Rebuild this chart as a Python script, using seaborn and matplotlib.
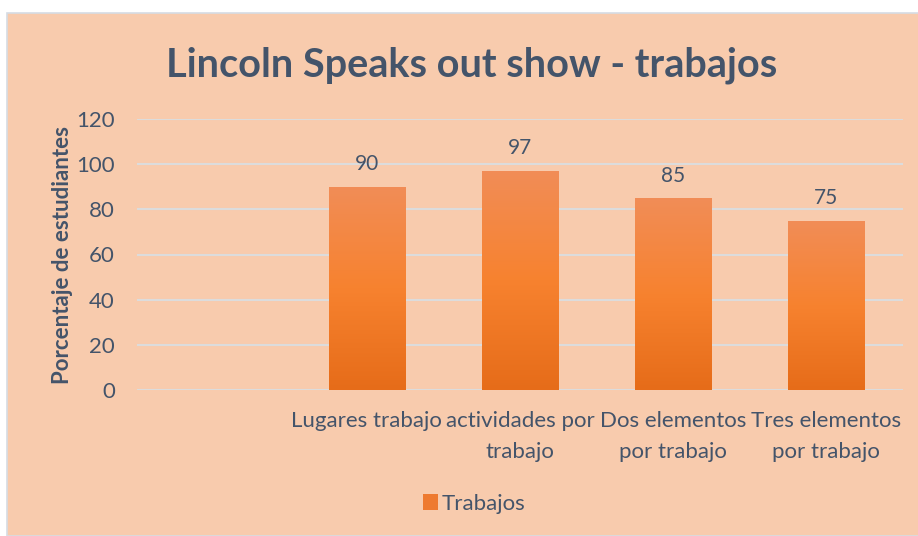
import numpy as np
import pandas as pd
import matplotlib.pyplot as plt
import seaborn as sns
from matplotlib.colors import LinearSegmentedColormap
from matplotlib.patches import Rectangle, Patch

# chart data
categories = ["", "Lugares trabajo", "actividades por\ntrabajo",
              "Dos elementos\npor trabajo", "Tres elementos\npor trabajo"]
bar_categories = categories[1:]
valores = [90, 97, 85, 75]

data = pd.DataFrame({"Categoria": bar_categories, "Trabajos": valores})

peach = "#F8CBAD"
text_col = "#44546A"

sns.set_style("white")
plt.rcParams["font.family"] = ["Lato", "DejaVu Sans"]

fig = plt.figure(figsize=(9.18, 5.36), dpi=100)
fig.patch.set_facecolor("white")
# chart area background
fig.patches.append(Rectangle((7 / 918, 0), 1, 1 - 13 / 536, transform=fig.transFigure,
                             facecolor=peach, edgecolor="#D6DCE4", linewidth=1.2, zorder=-5))

ax = fig.add_axes([137 / 918, 1 - 390 / 536, (903 - 137) / 918, (390 - 119) / 536])
ax.set_facecolor("none")
ax.set_zorder(2)

sns.barplot(data=data, x="Categoria", y="Trabajos", order=categories,
            color="#ED7D31", width=0.5, ax=ax, zorder=3)

# gradient fill on bars
cmap = LinearSegmentedColormap.from_list("grad", ["#E66C19", "#F7822F", "#F18D57"])
grad = np.linspace(0, 1, 256).reshape(-1, 1)
for p in ax.patches:
    x0, y0 = p.get_x(), p.get_y()
    w, h = p.get_width(), p.get_height()
    if np.isnan(h) or h == 0:
        continue
    p.set_facecolor("none")
    p.set_edgecolor("none")
    im = ax.imshow(grad, cmap=cmap, origin="lower", aspect="auto",
                   extent=[x0, x0 + w, y0, y0 + h], zorder=3)
    im.set_clip_path(p)

for c in ax.containers:
    ax.bar_label(c, labels=[str(v) for v in valores], padding=9,
                 fontsize=15, color=text_col)

ax.set_xlim(-0.5, len(categories) - 0.5)
ax.set_ylim(0, 120)
ax.set_yticks(range(0, 121, 20))
ax.set_xticks(range(len(categories)), categories, linespacing=1.7)
ax.yaxis.grid(True, color="#DCDCDC", linewidth=1.5, zorder=0)
ax.set_axisbelow(True)
for s in ax.spines.values():
    s.set_visible(False)
ax.tick_params(axis="both", length=0, labelsize=16, labelcolor=text_col)
ax.tick_params(axis="y", pad=16)
ax.tick_params(axis="x", pad=15)
ax.set_xlabel("")
ax.set_ylabel("Porcentaje de estudiantes", fontsize=16, fontweight="bold",
              color=text_col, labelpad=2)

fig.suptitle("Lincoln Speaks out show - trabajos", x=472 / 918, y=1 - 46 / 536,
             fontsize=28.5, fontweight="bold", color=text_col, va="top")

fig.legend(handles=[Patch(facecolor="#EE7A30", edgecolor="none", label="Trabajos")],
           loc="center", bbox_to_anchor=(474 / 918, 1 - 504 / 536), frameon=False,
           fontsize=16, labelcolor=text_col, handlelength=0.7, handleheight=0.7,
           handletextpad=0.15)

fig.savefig("out.png", dpi=100, facecolor=fig.get_facecolor())
